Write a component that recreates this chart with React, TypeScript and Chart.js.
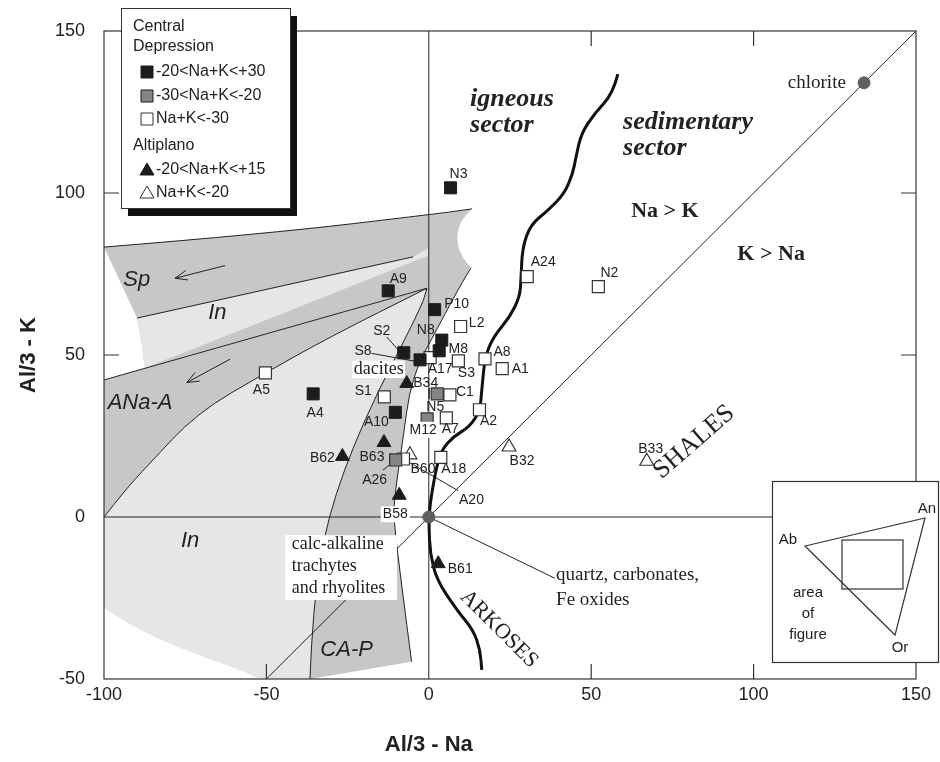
import { useEffect, useRef } from 'react';
import { Chart, registerables } from 'chart.js';

Chart.register(...registerables);

type Sample = { id: string; x: number; y: number };
type XY = [number, number];

// ---- Axis ticks ----
const xTicks = [-100, -50, 0, 50, 100, 150];
const yTicks = [-50, 0, 50, 100, 150];

// ---- Central Depression samples ----
// -20 < Na+K < +30
const cdHigh: Sample[] = [
  { id: 'N3', x: 6.7, y: 101.6 },
  { id: 'A9', x: -12.5, y: 69.8 },
  { id: 'P10', x: 1.8, y: 64.0 },
  { id: 'N8', x: 4.0, y: 54.6 },
  { id: 'M8', x: 3.2, y: 51.3 },
  { id: 'S2', x: -7.7, y: 50.7 },
  { id: 'S8', x: -2.7, y: 48.5 },
  { id: 'A4', x: -35.6, y: 38.0 },
  { id: 'A10', x: -10.3, y: 32.3 },
];
// -30 < Na+K < -20
const cdMid: Sample[] = [
  { id: 'N5', x: 2.6, y: 38.0 },
  { id: 'M12', x: -0.5, y: 30.3 },
  { id: 'A26', x: -10.2, y: 17.6 },
];
// Na+K < -30
const cdLow: Sample[] = [
  { id: 'A24', x: 30.3, y: 74.2 },
  { id: 'N2', x: 52.2, y: 71.1 },
  { id: 'L2', x: 9.8, y: 58.8 },
  { id: 'A17', x: 0.4, y: 49.2 },
  { id: 'S3', x: 9.1, y: 48.2 },
  { id: 'A8', x: 17.3, y: 48.8 },
  { id: 'A1', x: 22.6, y: 45.8 },
  { id: 'S1', x: -13.7, y: 37.1 },
  { id: 'C1', x: 6.5, y: 37.7 },
  { id: 'A7', x: 5.4, y: 30.6 },
  { id: 'A2', x: 15.6, y: 33.1 },
  { id: 'A20', x: -7.8, y: 17.9 },
  { id: 'A18', x: 3.7, y: 18.4 },
  { id: 'A5', x: -50.3, y: 44.5 },
];

// ---- Altiplano samples ----
// -20 < Na+K < +15
const apHigh: Sample[] = [
  { id: 'B34', x: -6.8, y: 41.2 },
  { id: 'B63', x: -13.8, y: 23.0 },
  { id: 'B62', x: -26.6, y: 18.7 },
  { id: 'B58', x: -9.1, y: 6.7 },
  { id: 'B61', x: 2.9, y: -14.4 },
];
// Na+K < -20
const apLow: Sample[] = [
  { id: 'B60', x: -5.8, y: 19.2 },
  { id: 'B32', x: 24.7, y: 21.6 },
  { id: 'B33', x: 67.1, y: 17.2 },
];

// Reference compositions
const refPoints: Sample[] = [
  { id: 'origin', x: 0, y: 0 },
  { id: 'chlorite', x: 134, y: 134 },
];

// ---- Field outlines (data units) ----
const spTopEdge: XY[] = [[-100, 83.3], [-49.9, 87.4], [3.4, 93.7], [13.3, 95.1]];
const notchArc: XY[] = [[13.3, 95.1], [10.5, 92.3], [9.1, 89.2], [8.7, 86.1], [9.1, 83.0], [10.5, 79.9], [13.0, 76.9]];
const capRightEdge: XY[] = [[13.0, 76.9], [10.6, 73.1], [2.5, 58.0], [-5.3, 43.3], [-8.3, 21.7], [-10.4, 7.3], [-10.9, -0.4], [-8.3, -21.5], [-5.3, -44.7]];
const capLeftEdge: XY[] = [[-36.6, -50], [-35.7, -27.8], [-31.4, -0.3], [-20.2, 29.9], [-2.2, 64.9], [-0.6, 70.6]];
const anaTopEdge: XY[] = [[-100, 42.3], [-0.6, 70.6]];
const anaLowerEdge: XY[] = [[-100, 0], [-93.5, 8.3], [-86.9, 15.5], [-71.5, 32.0], [-50.3, 44.5], [-30.4, 55.6], [-0.6, 70.6]];
const inLeftEdge: XY[] = [[-87.4, 46.0], [-88.6, 54.6], [-89.8, 61.4]];
const spLowerEdge: XY[] = [[-89.8, 61.4], [-4.8, 80.3]];
const inField: XY[] = [[-89.8, 61.4], [-4.8, 80.3], [-0.2, 82.8], [-0.2, 80.6], [-87.4, 46.0], [-88.6, 54.6]];
const lightBottomEdge: XY[] = [[-100, -28.2], [-91.1, -34.0], [-75.7, -41.0], [-60.3, -46.3], [-52, -50]];

// Igneous / sedimentary boundary
const sectorBoundary: XY[] = [
  [58.2, 136.7], [56.7, 130.7], [51.0, 124.5], [46.9, 118.3], [45.3, 111.0], [44.3, 105.9],
  [41.7, 99.7], [36.5, 94.4], [31.4, 90.3], [28.8, 83.1], [28.4, 73.5], [28.0, 68.0],
  [25.0, 61.8], [19.9, 55.6], [17.3, 49.5], [16.3, 39.2], [15.8, 33.0], [12.7, 27.9],
  [7.5, 24.8], [4.0, 20.7], [2.4, 15.5], [0.9, 7.3], [0.1, 1.2], [0.06, -3.0],
  [0.4, -11.1], [2.4, -19.4], [8.6, -28.7], [13.7, -34.9], [15.8, -41.0], [16.3, -47.2],
];

// Leader lines
const leaders: XY[][] = [
  [[-13.0, 55.6], [-8.9, 51.0]],
  [[-17.6, 50.5], [-3.2, 47.9]],
  [[-10.2, 17.6], [-14.1, 14.5]],
  [[-7.8, 17.9], [9.1, 8.1]],
  [[0, 0], [38.8, -18.9]],
];
const arrows: XY[][] = [
  [[-62.7, 77.6], [-78.1, 73.7]],
  [[-61.2, 48.7], [-74.5, 41.5]],
];

// Label offsets in px relative to the marker
const labelOffsets: Record<string, XY> = {
  N3: [8, -14], A9: [10, -12], P10: [22, -5], N8: [-16, -10], M8: [19, -2], S2: [-22, -22],
  S8: [-57, -9], A4: [2, 19], A10: [-19, 10], N5: [-2, 13], M12: [-4, 11], A26: [-21, 20],
  A24: [16, -14], N2: [11, -13], L2: [16, -3], A17: [10, 12], S3: [8, 12], A8: [17, -7],
  A1: [18, 1], S1: [-21, -6], C1: [15, -3], A7: [4, 11], A2: [9, 11], A20: [68, 41],
  A18: [13, 12], A5: [-4, 17], B34: [19, 0], B63: [-12, 15], B62: [-20, 2], B58: [-4, 19],
  B61: [22, 5], B60: [13, 14], B32: [13, 14], B33: [4, -12],
};
const labelWithBackground = new Set(['B58', 'M12']);

const SANS = '"Liberation Sans", Arial, sans-serif';
const SERIF = '"Liberation Serif", "Times New Roman", serif';
const INK = '#222';
const MED = '#c7c7c7';
const LIGHT = '#e6e6e6';

const px = (chart: any, p: XY): XY => [chart.scales.x.getPixelForValue(p[0]), chart.scales.y.getPixelForValue(p[1])];

type Seg = { pts: XY[]; smooth?: boolean };
function trace(ctx: CanvasRenderingContext2D, chart: any, segs: Seg[]) {
  ctx.beginPath();
  let first = true;
  for (const seg of segs) {
    const p = seg.pts.map((q) => px(chart, q));
    if (first) { ctx.moveTo(p[0][0], p[0][1]); first = false; } else ctx.lineTo(p[0][0], p[0][1]);
    if (seg.smooth && p.length > 2) {
      for (let i = 1; i < p.length - 1; i++) {
        const mx = (p[i][0] + p[i + 1][0]) / 2;
        const my = (p[i][1] + p[i + 1][1]) / 2;
        ctx.quadraticCurveTo(p[i][0], p[i][1], mx, my);
      }
      ctx.lineTo(p[p.length - 1][0], p[p.length - 1][1]);
    } else {
      for (let i = 1; i < p.length; i++) ctx.lineTo(p[i][0], p[i][1]);
    }
  }
}
const rev = (a: XY[]) => [...a].reverse();

function text(ctx: CanvasRenderingContext2D, s: string, x: number, y: number, font: string, align: CanvasTextAlign = 'center', rot = 0) {
  ctx.save();
  ctx.font = font;
  ctx.fillStyle = INK;
  ctx.textAlign = align;
  ctx.textBaseline = 'middle';
  ctx.translate(x, y);
  if (rot) ctx.rotate((rot * Math.PI) / 180);
  ctx.fillText(s, 0, 0);
  ctx.restore();
}

const backdrop = {
  id: 'backdrop',
  beforeDatasetsDraw(chart: any) {
    const ctx: CanvasRenderingContext2D = chart.ctx;
    const { left, right, top, bottom } = chart.chartArea;
    ctx.save();

    // Light field below the ANa-A band
    trace(ctx, chart, [{ pts: rev(anaLowerEdge), smooth: true }, { pts: lightBottomEdge, smooth: true }, { pts: capLeftEdge, smooth: true }]);
    ctx.closePath();
    ctx.fillStyle = LIGHT;
    ctx.fill();

    // Sp band, cap and CA-P band
    trace(ctx, chart, [
      { pts: spTopEdge, smooth: true },
      { pts: notchArc, smooth: true },
      { pts: capRightEdge, smooth: true },
      { pts: capLeftEdge, smooth: true },
      { pts: [[-87.4, 46.0]] },
      { pts: inLeftEdge, smooth: true },
    ]);
    ctx.closePath();
    ctx.fillStyle = MED;
    ctx.fill();

    // ANa-A band
    trace(ctx, chart, [{ pts: [[-0.6, 70.6], [-100, 42.3], [-100, 0]] }, { pts: anaLowerEdge, smooth: true }]);
    ctx.closePath();
    ctx.fillStyle = MED;
    ctx.fill();

    // In field
    trace(ctx, chart, [{ pts: inField }]);
    ctx.closePath();
    ctx.fillStyle = LIGHT;
    ctx.fill();

    // Field borders
    ctx.strokeStyle = INK;
    ctx.lineWidth = 1;
    for (const s of [
      { pts: spTopEdge, smooth: true },
      { pts: spLowerEdge },
      { pts: anaTopEdge },
      { pts: anaLowerEdge, smooth: true },
      { pts: capLeftEdge, smooth: true },
      { pts: capRightEdge, smooth: true },
    ] as Seg[]) {
      trace(ctx, chart, [s]);
      ctx.stroke();
    }

    // Reference lines
    trace(ctx, chart, [{ pts: [[0, -50], [0, 150]] }]); ctx.stroke();
    trace(ctx, chart, [{ pts: [[-100, 0], [150, 0]] }]); ctx.stroke();
    trace(ctx, chart, [{ pts: [[-50, -50], [150, 150]] }]); ctx.stroke();
    for (const l of leaders) { trace(ctx, chart, [{ pts: l }]); ctx.stroke(); }

    // Arrows
    for (const a of arrows) {
      const [t, h] = a.map((q) => px(chart, q));
      ctx.beginPath();
      ctx.moveTo(t[0], t[1]);
      ctx.lineTo(h[0], h[1]);
      const ang = Math.atan2(t[1] - h[1], t[0] - h[0]);
      for (const d of [-0.38, 0.38]) {
        ctx.moveTo(h[0], h[1]);
        ctx.lineTo(h[0] + 13 * Math.cos(ang + d), h[1] + 13 * Math.sin(ang + d));
      }
      ctx.stroke();
    }

    // Sector boundary
    ctx.lineWidth = 3;
    ctx.strokeStyle = '#111';
    trace(ctx, chart, [{ pts: sectorBoundary, smooth: true }]);
    ctx.stroke();

    // Frame and inward ticks
    ctx.lineWidth = 1.2;
    ctx.strokeStyle = '#333';
    ctx.strokeRect(left, top, right - left, bottom - top);
    ctx.beginPath();
    for (const v of xTicks.slice(1, -1)) {
      if (v === 0) continue;
      const x = chart.scales.x.getPixelForValue(v);
      ctx.moveTo(x, bottom); ctx.lineTo(x, bottom - 15);
      ctx.moveTo(x, top); ctx.lineTo(x, top + 15);
    }
    for (const v of yTicks.slice(1, -1)) {
      if (v === 0) continue;
      const y = chart.scales.y.getPixelForValue(v);
      ctx.moveTo(left, y); ctx.lineTo(left + 15, y);
      ctx.moveTo(right, y); ctx.lineTo(right - 15, y);
    }
    ctx.stroke();

    // Field and sector names
    const at = (x: number, y: number) => px(chart, [x, y]);
    const it = `italic 22px ${SANS}`;
    let p = at(-89.9, 73.1); text(ctx, 'Sp', p[0], p[1], it);
    p = at(-65.1, 63.1); text(ctx, 'In', p[0], p[1], it);
    p = at(-88.9, 35.2); text(ctx, 'ANa-A', p[0], p[1], it);
    p = at(-73.5, -7.3); text(ctx, 'In', p[0], p[1], it);
    p = at(-25.3, -41.0); text(ctx, 'CA-P', p[0], p[1], it);

    const bi = `italic bold 26px ${SERIF}`;
    p = at(12.7, 128.8); text(ctx, 'igneous', p[0], p[1], bi, 'left');
    p = at(12.7, 120.9); text(ctx, 'sector', p[0], p[1], bi, 'left');
    p = at(59.8, 121.9); text(ctx, 'sedimentary', p[0], p[1], bi, 'left');
    p = at(59.8, 113.9); text(ctx, 'sector', p[0], p[1], bi, 'left');
    const bs = `bold 22px ${SERIF}`;
    p = at(72.7, 94.4); text(ctx, 'Na > K', p[0], p[1], bs);
    p = at(105.4, 81.2); text(ctx, 'K > Na', p[0], p[1], bs);
    const rs = `19px ${SERIF}`;
    p = at(128.4, 134.1); text(ctx, 'chlorite', p[0], p[1], rs, 'right');
    p = at(39.2, -17.9); text(ctx, 'quartz, carbonates,', p[0], p[1], rs, 'left');
    p = at(39.2, -25.6); text(ctx, 'Fe oxides', p[0], p[1], rs, 'left');
    p = at(81.7, 23.1); text(ctx, 'SHALES', p[0], p[1], `26px ${SERIF}`, 'center', -41);
    p = at(21.6, -34.6); text(ctx, 'ARKOSES', p[0], p[1], `22px ${SERIF}`, 'center', 45);

    // Boxed rock names
    const b1 = at(-44.2, -5.6); const b2 = at(-9.8, -25.6);
    ctx.fillStyle = '#fff';
    ctx.fillRect(b1[0], b1[1], b2[0] - b1[0], b2[1] - b1[1]);
    p = at(-42.2, -8.3); text(ctx, 'calc-alkaline', p[0], p[1], `18px ${SERIF}`, 'left');
    p = at(-42.2, -15.3); text(ctx, 'trachytes', p[0], p[1], `18px ${SERIF}`, 'left');
    p = at(-42.2, -22.0); text(ctx, 'and rhyolites', p[0], p[1], `18px ${SERIF}`, 'left');
    const d1 = at(-23.6, 48.3); const d2 = at(-7.3, 42.9);
    ctx.fillStyle = '#fff';
    ctx.fillRect(d1[0], d1[1], d2[0] - d1[0], d2[1] - d1[1]);
    p = at(-15.4, 45.6); text(ctx, 'dacites', p[0], p[1], `18px ${SERIF}`);

    ctx.restore();
  },
};

const sampleLabels = {
  id: 'sampleLabels',
  afterDatasetsDraw(chart: any) {
    const ctx: CanvasRenderingContext2D = chart.ctx;
    ctx.save();
    ctx.font = `14px ${SANS}`;
    ctx.textAlign = 'center';
    ctx.textBaseline = 'middle';
    for (const s of [...cdHigh, ...cdMid, ...cdLow, ...apHigh, ...apLow]) {
      const off = labelOffsets[s.id];
      if (!off) continue;
      const [x, y] = px(chart, [s.x, s.y]);
      const lx = x + off[0];
      const ly = y + off[1];
      if (labelWithBackground.has(s.id)) {
        const w = ctx.measureText(s.id).width;
        ctx.fillStyle = '#fff';
        ctx.fillRect(lx - w / 2 - 2, ly - 8, w + 4, 16);
      }
      ctx.fillStyle = INK;
      ctx.fillText(s.id, lx, ly);
    }
    // small tick beside N5
    const n5 = cdMid[0];
    const [nx, ny] = px(chart, [n5.x, n5.y]);
    ctx.strokeStyle = INK;
    ctx.lineWidth = 1.2;
    ctx.beginPath();
    ctx.moveTo(nx - 8, ny - 6);
    ctx.lineTo(nx - 8, ny + 5);
    ctx.stroke();
    ctx.restore();
  },
};

function marker(ctx: CanvasRenderingContext2D, kind: string, x: number, y: number, fill: string) {
  ctx.beginPath();
  if (kind === 'rect') ctx.rect(x - 6, y - 6, 12, 12);
  else {
    ctx.moveTo(x, y - 7);
    ctx.lineTo(x + 7, y + 5);
    ctx.lineTo(x - 7, y + 5);
    ctx.closePath();
  }
  ctx.fillStyle = fill;
  ctx.fill();
  ctx.strokeStyle = fill === '#fff' ? '#333' : '#1c1c1c';
  ctx.lineWidth = 1;
  ctx.stroke();
}

const overlay = {
  id: 'overlay',
  afterDraw(chart: any) {
    const ctx: CanvasRenderingContext2D = chart.ctx;
    ctx.save();
    // Legend box with drop shadow
    ctx.fillStyle = '#111';
    ctx.fillRect(128, 16, 169, 200);
    ctx.fillStyle = '#fff';
    ctx.fillRect(121, 8, 169, 200);
    ctx.strokeStyle = '#333';
    ctx.lineWidth = 1;
    ctx.strokeRect(121.5, 8.5, 169, 200);
    const f = `16px ${SANS}`;
    text(ctx, 'Central', 133, 27, f, 'left');
    text(ctx, 'Depression', 133, 47, f, 'left');
    marker(ctx, 'rect', 147, 72, '#1c1c1c');
    text(ctx, '-20<Na+K<+30', 156, 72, f, 'left');
    marker(ctx, 'rect', 147, 96, '#858585');
    text(ctx, '-30<Na+K<-20', 156, 96, f, 'left');
    marker(ctx, 'rect', 147, 119, '#fff');
    text(ctx, 'Na+K<-30', 156, 119, f, 'left');
    text(ctx, 'Altiplano', 133, 146, f, 'left');
    marker(ctx, 'tri', 147, 170, '#1c1c1c');
    text(ctx, '-20<Na+K<+15', 156, 170, f, 'left');
    marker(ctx, 'tri', 147, 193, '#fff');
    text(ctx, 'Na+K<-20', 156, 193, f, 'left');

    // Inset: location of the figure in the Ab-An-Or triangle
    ctx.fillStyle = '#fff';
    ctx.fillRect(772, 481, 167, 182);
    ctx.strokeStyle = '#333';
    ctx.lineWidth = 1.2;
    ctx.strokeRect(772.5, 481.5, 166, 181);
    ctx.beginPath();
    ctx.moveTo(805, 546); ctx.lineTo(925, 518); ctx.lineTo(895, 635); ctx.closePath();
    ctx.stroke();
    ctx.strokeRect(842, 540, 61, 49);
    const g = `15px ${SANS}`;
    text(ctx, 'Ab', 788, 540, g);
    text(ctx, 'An', 927, 509, g);
    text(ctx, 'Or', 900, 648, g);
    text(ctx, 'area', 808, 593, g);
    text(ctx, 'of', 808, 614, g);
    text(ctx, 'figure', 808, 635, g);

    // Axis titles
    text(ctx, 'Al/3 - Na', chart.scales.x.getPixelForValue(0), 745, `bold 22px ${SANS}`);
    text(ctx, 'Al/3 - K', 29, (chart.chartArea.top + chart.chartArea.bottom) / 2, `bold 22px ${SANS}`, 'center', -90);
    ctx.restore();
  },
};

const toXY = (a: Sample[]) => a.map((s) => ({ x: s.x, y: s.y }));

export default function App() {
  const ref = useRef<HTMLCanvasElement>(null);
  useEffect(() => {
    const canvas = ref.current;
    if (!canvas) return;
    const tickFont = { family: SANS, size: 18 };
    const chart = new Chart(canvas, {
      type: 'scatter',
      data: {
        datasets: [
          { label: '-20<Na+K<+30', data: toXY(cdHigh), pointStyle: 'rect', pointRadius: 8.5, backgroundColor: '#1c1c1c', borderColor: '#1c1c1c', borderWidth: 1 },
          { label: '-30<Na+K<-20', data: toXY(cdMid), pointStyle: 'rect', pointRadius: 8.5, backgroundColor: '#858585', borderColor: '#333', borderWidth: 1.2 },
          { label: 'Na+K<-30', data: toXY(cdLow), pointStyle: 'rect', pointRadius: 8.5, backgroundColor: '#fff', borderColor: '#333', borderWidth: 1.2 },
          { label: '-20<Na+K<+15', data: toXY(apHigh), pointStyle: 'triangle', pointRadius: 8, backgroundColor: '#1c1c1c', borderColor: '#1c1c1c', borderWidth: 1 },
          { label: 'Na+K<-20', data: toXY(apLow), pointStyle: 'triangle', pointRadius: 8, backgroundColor: '#fff', borderColor: '#333', borderWidth: 1.2 },
          { label: 'reference', data: toXY(refPoints), pointStyle: 'circle', pointRadius: 6, backgroundColor: '#5f5f5f', borderColor: '#5f5f5f', borderWidth: 1 },
        ],
      } as any,
      options: {
        responsive: false,
        animation: false,
        devicePixelRatio: 1,
        layout: { padding: { top: 31, right: 24, left: 0, bottom: 0 } },
        plugins: { legend: { display: false }, tooltip: { enabled: false } },
        scales: {
          x: {
            type: 'linear', min: xTicks[0], max: xTicks[xTicks.length - 1],
            afterBuildTicks: (s: any) => { s.ticks = xTicks.map((v) => ({ value: v })); },
            ticks: { font: tickFont, color: INK, padding: 5, maxRotation: 0 },
            grid: { display: false, drawTicks: false },
            border: { display: false },
            afterFit: (s: any) => { s.height = 83; },
          },
          y: {
            type: 'linear', min: yTicks[0], max: yTicks[yTicks.length - 1],
            afterBuildTicks: (s: any) => { s.ticks = yTicks.map((v) => ({ value: v })); },
            ticks: { font: tickFont, color: INK, padding: 19 },
            grid: { display: false, drawTicks: false },
            border: { display: false },
            afterFit: (s: any) => { s.width = 104; },
          },
        },
      } as any,
      plugins: [backdrop, sampleLabels, overlay],
    });
    return () => chart.destroy();
  }, []);
  return (
    <div style={{ position: 'absolute', left: 0, top: 0, width: 940, height: 762, background: '#fff' }}>
      <canvas ref={ref} width={940} height={762} style={{ width: 940, height: 762 }} />
    </div>
  );
}
